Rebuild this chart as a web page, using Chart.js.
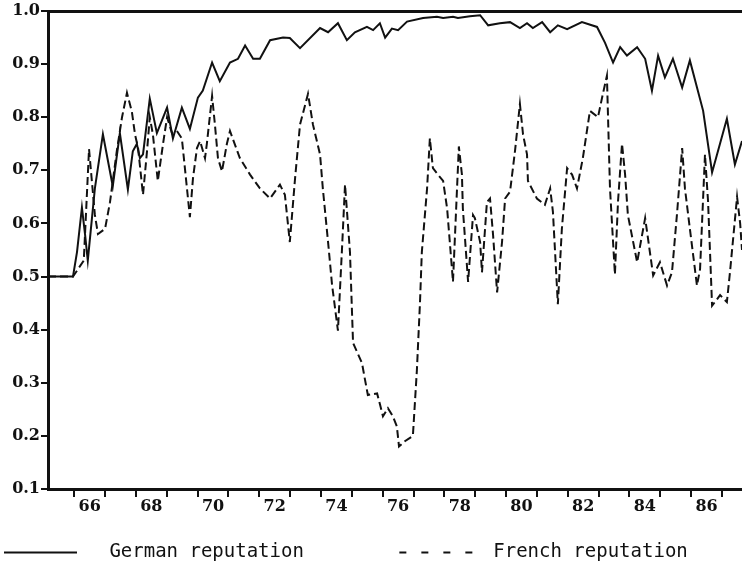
<!DOCTYPE html>
<html>
<head>
<meta charset="utf-8">
<script src="https://cdn.jsdelivr.net/npm/chart.js@4.4.0/dist/chart.umd.min.js"></script>
<style>
  html, body { margin: 0; padding: 0; background: #ffffff; }
  #wrap { width: 742px; height: 563px; position: relative; }
</style>
</head>
<body>
<div id="wrap"><canvas id="c"></canvas></div>
<script>
// ---- data ----
const germanYears = [1965.15,1965.96,1966.09,1966.25,1966.35,1966.44,1966.67,1966.93,1967.25,1967.48,1967.74,1967.90,1968.03,1968.13,1968.23,1968.45,1968.68,1969.01,1969.20,1969.49,1969.75,1970.01,1970.17,1970.47,1970.72,1971.05,1971.31,1971.54,1971.80,1972.02,1972.35,1972.77,1972.99,1973.32,1973.97,1974.23,1974.55,1974.84,1975.10,1975.49,1975.69,1975.91,1976.08,1976.30,1976.50,1976.79,1977.31,1977.76,1977.96,1978.28,1978.44,1978.83,1979.16,1979.42,1979.80,1980.13,1980.45,1980.68,1980.87,1981.17,1981.43,1981.68,1981.98,1982.46,1982.95,1983.21,1983.47,1983.70,1983.92,1984.25,1984.51,1984.73,1984.93,1985.15,1985.41,1985.71,1985.96,1986.39,1986.68,1987.16,1987.42,1987.65];
const germanRep = [0.5,0.5,0.546,0.63,0.58,0.53,0.666,0.768,0.67,0.77,0.664,0.736,0.75,0.723,0.73,0.835,0.77,0.818,0.76,0.818,0.778,0.837,0.85,0.903,0.868,0.903,0.91,0.935,0.91,0.91,0.945,0.95,0.949,0.93,0.968,0.96,0.977,0.945,0.96,0.97,0.964,0.977,0.95,0.967,0.964,0.98,0.987,0.989,0.987,0.989,0.987,0.99,0.992,0.973,0.977,0.979,0.968,0.977,0.968,0.979,0.96,0.973,0.966,0.979,0.97,0.94,0.903,0.932,0.916,0.932,0.91,0.85,0.916,0.875,0.91,0.856,0.907,0.812,0.696,0.797,0.711,0.755];

const frenchYears = [1965.15,1965.96,1966.31,1966.48,1966.67,1966.77,1967.00,1967.16,1967.38,1967.55,1967.71,1967.87,1967.97,1968.07,1968.23,1968.36,1968.45,1968.55,1968.71,1968.88,1969.01,1969.17,1969.33,1969.49,1969.75,1969.85,1969.98,1970.08,1970.24,1970.30,1970.47,1970.56,1970.66,1970.79,1970.95,1971.05,1971.37,1971.70,1972.02,1972.35,1972.67,1972.83,1972.99,1973.16,1973.32,1973.58,1973.74,1973.97,1974.06,1974.23,1974.36,1974.55,1974.68,1974.78,1974.94,1975.04,1975.33,1975.43,1975.52,1975.82,1975.91,1976.01,1976.17,1976.33,1976.46,1976.53,1976.72,1976.98,1977.11,1977.21,1977.27,1977.44,1977.53,1977.63,1977.79,1977.96,1978.09,1978.28,1978.47,1978.57,1978.60,1978.77,1978.93,1978.99,1979.16,1979.22,1979.38,1979.48,1979.58,1979.71,1979.87,1979.97,1980.13,1980.29,1980.45,1980.55,1980.68,1980.71,1981.00,1981.26,1981.43,1981.52,1981.68,1981.81,1981.98,1982.14,1982.30,1982.49,1982.72,1982.98,1983.14,1983.27,1983.37,1983.53,1983.63,1983.76,1983.86,1983.95,1984.25,1984.51,1984.77,1984.99,1985.22,1985.38,1985.54,1985.71,1985.80,1985.96,1986.19,1986.29,1986.45,1986.55,1986.68,1986.94,1987.16,1987.26,1987.49,1987.59,1987.65];
const frenchRep = [0.5,0.5,0.53,0.74,0.616,0.58,0.59,0.64,0.736,0.80,0.846,0.81,0.768,0.742,0.654,0.736,0.80,0.768,0.68,0.75,0.80,0.77,0.774,0.76,0.612,0.685,0.742,0.755,0.723,0.75,0.84,0.787,0.723,0.698,0.75,0.774,0.723,0.692,0.666,0.647,0.673,0.654,0.565,0.685,0.786,0.844,0.786,0.73,0.666,0.565,0.484,0.398,0.55,0.673,0.546,0.375,0.337,0.305,0.277,0.28,0.26,0.237,0.252,0.237,0.218,0.18,0.19,0.2,0.324,0.451,0.546,0.666,0.76,0.704,0.692,0.68,0.628,0.49,0.745,0.692,0.628,0.49,0.616,0.61,0.565,0.508,0.64,0.647,0.578,0.47,0.565,0.647,0.66,0.736,0.825,0.768,0.73,0.68,0.647,0.635,0.666,0.622,0.448,0.59,0.704,0.692,0.666,0.723,0.812,0.80,0.844,0.878,0.666,0.504,0.641,0.75,0.692,0.616,0.527,0.61,0.502,0.527,0.483,0.508,0.616,0.742,0.666,0.59,0.483,0.514,0.73,0.641,0.445,0.465,0.452,0.508,0.65,0.60,0.55];

const xLabelYears = [1966,1968,1970,1972,1974,1976,1978,1980,1982,1984,1986];
const xTickLabels = ['66','68','70','72','74','76','78','80','82','84','86'];
const yTickValues = [0.1,0.2,0.3,0.4,0.5,0.6,0.7,0.8,0.9,1.0];
const seriesNames = ['German reputation','French reputation'];

const X_MIN = 1965.15, X_MAX = 1987.65;
const INK = '#111111';

function pts(xs, ys) { return xs.map((x, i) => ({ x: x, y: ys[i] })); }

const legendShift = {
  id: 'legendShift',
  afterLayout(chart) {
    const l = chart.legend;
    if (l) { l.top += 9; l.bottom += 9; }
  }
};

new Chart(document.getElementById('c'), {
  type: 'line',
  data: {
    datasets: [
      { label: seriesNames[0], data: pts(germanYears, germanRep), borderColor: INK, borderWidth: 2,
        pointRadius: 0, tension: 0, fill: false, xAxisID: 'x', yAxisID: 'y' },
      { label: seriesNames[1], data: pts(frenchYears, frenchRep), borderColor: INK, borderWidth: 2,
        borderDash: [8, 4], pointRadius: 0, tension: 0, fill: false, xAxisID: 'x', yAxisID: 'y' }
    ]
  },
  options: {
    responsive: true,
    maintainAspectRatio: false,
    animation: false,
    events: [],
    layout: { padding: { top: 11, left: 0, right: 0, bottom: 0 } },
    plugins: {
      tooltip: { enabled: false },
      legend: {
        position: 'bottom',
        align: 'start',
        labels: {
          usePointStyle: true,
          pointStyleWidth: 73,
          padding: 4,
          color: INK,
          font: { family: '"DejaVu Sans Mono", monospace', size: 19 },
          generateLabels() {
            return [
              { text: '  ' + seriesNames[0] + '        ', strokeStyle: INK, fillStyle: 'rgba(0,0,0,0)',
                lineWidth: 2, lineDash: [], pointStyle: 'line', hidden: false, datasetIndex: 0, fontColor: INK },
              { text: ' ' + seriesNames[1], strokeStyle: INK, fillStyle: 'rgba(0,0,0,0)',
                lineWidth: 2, lineDash: [7, 15], pointStyle: 'line', hidden: false, datasetIndex: 1, fontColor: INK }
            ];
          }
        }
      }
    },
    scales: {
      x: {
        type: 'linear',
        position: 'bottom',
        min: X_MIN, max: X_MAX,
        afterBuildTicks(scale) {
          const t = [];
          for (let i = 0; i <= 43; i++) t.push({ value: 1966 + i * 0.5 });
          scale.ticks = t;
        },
        afterFit(scale) { scale.height = 41; },
        ticks: {
          autoSkip: false, maxRotation: 0, minRotation: 0, padding: 0, color: INK,
          font: { family: '"DejaVu Serif", serif', size: 16, weight: 'bold' },
          callback(value) {
            const idx = xLabelYears.findIndex(y => Math.abs(value - (y + 0.5)) < 1e-6);
            return idx >= 0 ? xTickLabels[idx] : '';
          }
        },
        grid: {
          display: true, drawOnChartArea: false, drawTicks: true, tickLength: 8, lineWidth: 2,
          color(ctx) { return ctx.tick && Number.isInteger(ctx.tick.value) ? INK : 'rgba(0,0,0,0)'; }
        },
        border: { display: true, color: INK, width: 3 }
      },
      x2: {
        type: 'linear',
        position: 'top',
        min: X_MIN, max: X_MAX,
        afterFit(scale) { scale.height = 0; },
        ticks: { display: false },
        grid: { display: false, drawTicks: false },
        border: { display: true, color: INK, width: 3 }
      },
      y: {
        type: 'linear',
        position: 'left',
        min: 0.1, max: 1.0,
        afterBuildTicks(scale) { scale.ticks = yTickValues.map(v => ({ value: v })); },
        afterFit(scale) { scale.width = 48; },
        ticks: {
          padding: 1, color: INK,
          font: { family: '"DejaVu Serif", serif', size: 16, weight: 'bold' },
          callback(value) { return Number(value).toFixed(1); }
        },
        grid: { display: true, drawOnChartArea: false, drawTicks: true, tickLength: 7, lineWidth: 2, color: INK },
        border: { display: true, color: INK, width: 3 }
      }
    }
  },
  plugins: [legendShift]
});
</script>
</body>
</html>
